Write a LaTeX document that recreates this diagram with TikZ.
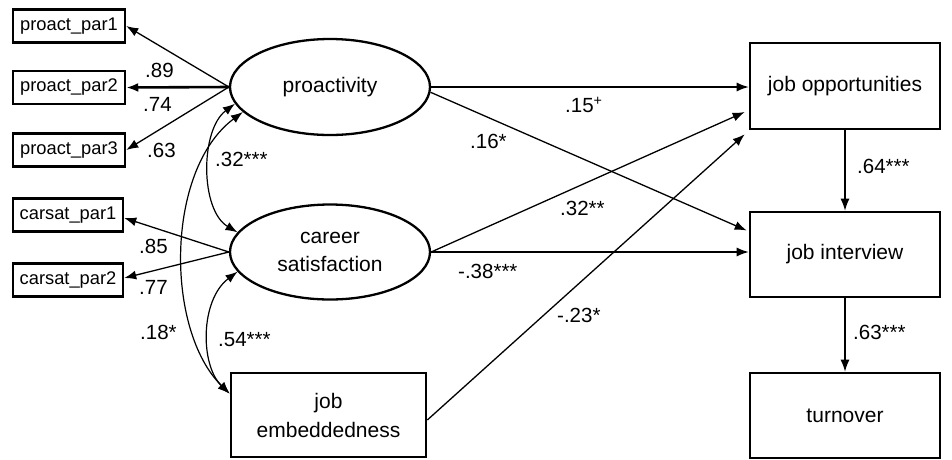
\documentclass[tikz,border=0pt]{standalone}
\usepackage{fontspec}
\setmainfont{Liberation Sans}
\usetikzlibrary{arrows.meta,shapes.geometric,calc}
\begin{document}
\begin{tikzpicture}[x=1pt,y=-1pt,
  obs/.style={draw,line width=2.5pt,minimum width=112pt,minimum height=33pt,inner sep=0pt,font=\fontsize{18.3}{20}\selectfont},
  lat/.style={draw,ellipse,line width=2.3pt,minimum width=200pt,minimum height=96pt,inner sep=0pt,font=\fontsize{21}{28}\selectfont,align=center},
  var/.style={draw,line width=2.6pt,minimum width=190pt,minimum height=85pt,inner sep=0pt,font=\fontsize{21}{29}\selectfont,align=center},
  arr/.style={-{Latex[length=12pt,width=9pt]},line width=1.3pt},
  cov/.style={{Latex[length=12pt,width=9pt]}-{Latex[length=12pt,width=9pt]},line width=1.2pt},
  coef/.style={font=\fontsize{20.5}{22}\selectfont,inner sep=0pt,anchor=west}]
\useasboundingbox (0,0) rectangle (952,459);
% observed indicators
\node[obs] (pp1) at (69,26) {proact\_par1};
\node[obs] (pp2) at (69,87.5) {proact\_par2};
\node[obs] (pp3) at (69,150) {proact\_par3};
\node[obs,minimum width=110pt] (cp1) at (68,215) {carsat\_par1};
\node[obs,minimum width=110pt] (cp2) at (68,280) {carsat\_par2};
% latent
\node[lat] (po) at (330,87) {proactivity};
\node[lat,minimum height=95pt] (cs) at (330,252) {career\\satisfaction};
% boxes
\node[var,minimum width=195pt,minimum height=84pt] (je) at (328.5,415) {job\\embeddedness};
\node[var,minimum height=86pt] (jo) at (845,86) {job opportunities};
\node[var] (ji) at (845,254.5) {job interview};
\node[var] (tu) at (845,415.5) {turnover};
% measurement arrows
\draw[arr] (po.west) -- (pp1.east);
\draw[arr,line width=2.6pt] (po.west) -- (pp2.east);
\draw[arr] (po.west) -- (pp3.east);
\draw[arr] (cs.west) -- ($(cp1.east)+(0,3)$);
\draw[arr] (cs.west) -- ($(cp2.east)+(0,-2)$);
% covariances
\coordinate (jein) at ($(je.north west)+(0,22)$);
\draw[cov] (po.190) .. controls (200,130) and (200,210) .. (cs.168);
\draw[cov] (po.196) .. controls (165,170) and (165,330) .. (jein);
\draw[cov] (cs.192) .. controls (200,300) and (200,365) .. (jein);
% structural paths
\draw[arr] (po.east) -- (po.east -| jo.west);
\draw[arr] (po.-3) -- ($(ji.west)+(-2,-24)$);
\draw[arr] (cs.east) -- ($(jo.west)+(-4,26)$);
\draw[arr] (cs.east) -- (cs.east -| ji.west);
\draw[arr] ($(je.east)+(0,5)$) -- ($(jo.south west)+(-4,4)$);
\draw[arr] (jo.south) -- (ji.north);
\draw[arr] (ji.south) -- (tu.north);
% coefficients
\node[coef] (l89) at (145,70) {.89};
\node[coef] (l74) at (143,104) {.74};
\node[coef] (l63) at (147,150) {.63};
\node[coef] (l32a) at (215,159) {.32***};
\node[coef] (l85) at (139,246) {.85};
\node[coef] (l77) at (139,287) {.77};
\node[coef] (l18) at (140,332) {.18*};
\node[coef] (l54) at (218,340) {.54***};
\node[coef] (l15) at (565,105) {.15\textsuperscript{+}};
\node[coef] (l16) at (470,141) {.16*};
\node[coef] (l32b) at (560,208) {.32**};
\node[coef] (l38) at (458,271) {-.38***};
\node[coef] (l23) at (557,315) {-.23*};
\node[coef] (l64) at (857,166) {.64***};
\node[coef] (l63b) at (853,332) {.63***};
\end{tikzpicture}
\end{document}
